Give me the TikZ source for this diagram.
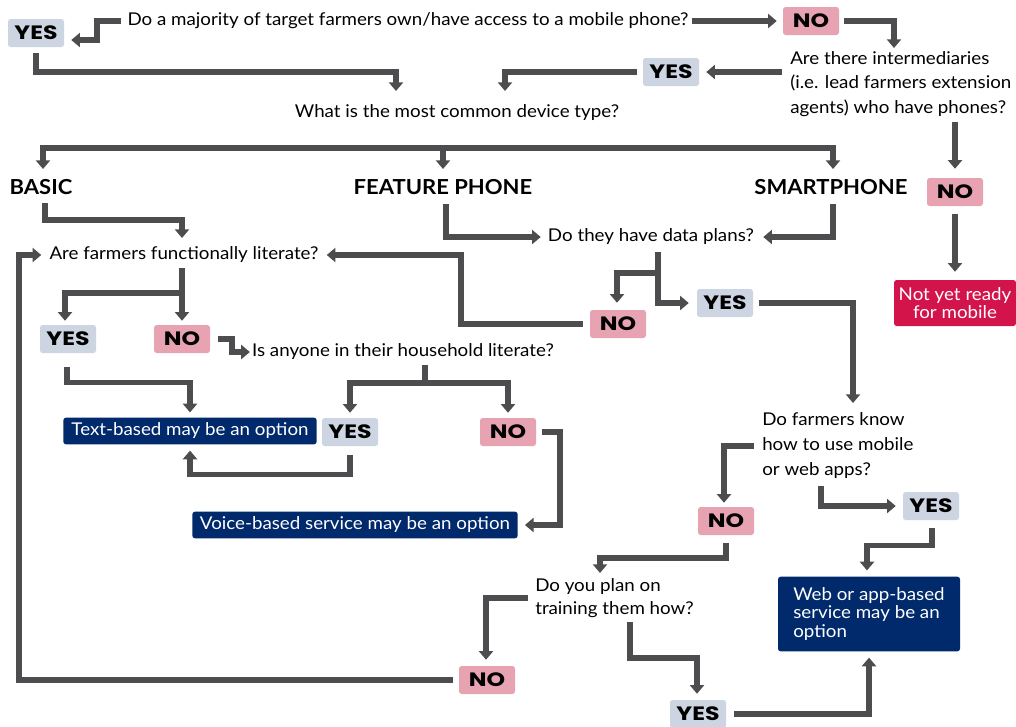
\documentclass[tikz,border=0pt]{standalone}
\usepackage{fontspec}
\setmainfont{Lato}[FakeStretch=1.065]
\newfontfamily\heavy{Poppins}[FakeStretch=1.22]
\usetikzlibrary{arrows.meta,calc}
\definecolor{lc}{HTML}{4D4D4F}
\definecolor{yescol}{HTML}{CDD5E2}
\definecolor{nocol}{HTML}{E7A3B1}
\definecolor{navy}{HTML}{002A6C}
\definecolor{crim}{HTML}{D2144A}
\begin{document}
\begin{tikzpicture}[x=0.75pt,y=-0.75pt,
  txt/.style={inner sep=0pt, font=\fontsize{13.2}{18.4}\selectfont},
  head/.style={inner sep=0pt, font=\fontsize{15.5}{18}\selectfont\bfseries},
  yesbox/.style={fill=yescol, rounded corners=2pt, minimum width=42pt, minimum height=21pt, inner sep=0pt, font=\heavy\bfseries\fontsize{14.5}{16}\selectfont},
  nobox/.style={yesbox, fill=nocol},
  navybox/.style={fill=navy, text=white, rounded corners=2pt, inner sep=0pt, font=\fontsize{13.2}{15}\selectfont},
  ln/.style={draw=lc, line width=4.3pt},
  arr/.style={ln, -{Triangle[width=10.5pt,length=6.5pt]}},
]
\fill[white] (0,0) rectangle (1016,726);
\useasboundingbox (0,0) rectangle (1016,726);

% nodes
\node[yesbox] (yes1) at (36,33) {YES};
\node[txt] (q1) at (408,21) {Do a majority of target farmers own/have access to a mobile phone?};
\node[nobox] (no1) at (811,21) {NO};
\node[txt, anchor=west, align=left] (q2) at (790,84) {Are there intermediaries\\(i.e. lead farmers extension\\agents) who have phones?};
\node[yesbox] (yes2) at (671,72) {YES};
\node[txt] (q3) at (457,113) {What is the most common device type?};
\node[head] (basic) at (41,187) {BASIC};
\node[head] (feat) at (443,187) {FEATURE PHONE};
\node[head] (smart) at (831,187) {SMARTPHONE};
\node[nobox] (no2) at (955,192) {NO};
\node[fill=crim, text=white, rounded corners=2pt, minimum width=91.5pt, minimum height=34.5pt, inner sep=0pt, align=center, font=\fontsize{13.2}{13.5}\selectfont] (nr) at (955,303) {Not yet ready\\for mobile};
\node[txt] (q4) at (184,255) {Are farmers functionally literate?};
\node[txt] (q5) at (651,237) {Do they have data plans?};
\node[yesbox] (yes3) at (68,339) {YES};
\node[nobox] (no3) at (182,339) {NO};
\node[txt] (q6) at (403,352) {Is anyone in their household literate?};
\node[nobox] (no4) at (618,324) {NO};
\node[yesbox] (yes4) at (725,303) {YES};
\node[navybox, minimum width=190pt, minimum height=20pt] (tb) at (190,431) {Text-based may be an option};
\node[yesbox] (yes5) at (350,432) {YES};
\node[nobox] (no5) at (508,432) {NO};
\node[navybox, minimum width=244pt, minimum height=20pt] (vb) at (355,525) {Voice-based service may be an option};
\node[txt, anchor=west, align=left, font=\fontsize{13.2}{18.75}\selectfont] (q7) at (762,446) {Do farmers know\\how to use mobile\\or web apps?};
\node[nobox] (no6) at (726,521) {NO};
\node[yesbox] (yes6) at (931,506) {YES};
\node[navybox, minimum width=136.5pt, minimum height=56pt, align=left, font=\fontsize{13.2}{13.9}\selectfont] (web) at (869,614) {Web or app-based\\service may be an\\option};
\node[txt, anchor=west, align=left, font=\fontsize{13.2}{17.25}\selectfont] (q8) at (535,598) {Do you plan on\\training them how?};
\node[nobox] (no7) at (487,680) {NO};
\node[yesbox] (yes7) at (698,714) {YES};

% connectors
\draw[arr] ($(q1.west)+(-6,0)$) -| ($(yes1.east)+(33,7)$) -- ($(yes1.east)+(7,7)$);
\draw[arr] ($(yes1.south)+(0,6)$) |- ($(q3.center)+(-61,-41)$) -- ($(q3.center)+(-61,-22)$);
\draw[arr] ($(q1.east)+(3,0)$) -- ($(no1.west)+(-6,0)$);
\draw[arr] ($(no1.east)+(5,0)$) -| ($(q2.west)+(104,-36)$);
\draw[arr] ($(q2.west)+(-8,-12)$) -- ($(yes2.east)+(7,0)$);
\draw[arr] ($(yes2.west)+(-6,0)$) -| ($(q3.center)+(48,-22)$);
\draw[arr] ($(q2.west)+(165,38)$) -- ($(no2.north)+(0,-9)$);
\draw[arr] ($(no2.south)+(0,8)$) -- ($(nr.north)+(0,-8)$);

\coordinate (split) at (443,148);
\draw[arr] (split) -| ($(basic.center)+(2,-18)$);
\draw[arr] (split) -- ($(feat.center)+(0,-18)$);
\draw[arr] (split) -| ($(smart.center)+(2,-18)$);

\draw[arr] ($(basic.center)+(4,16)$) |- ($(q4.center)+(-2,-35)$) -- ($(q4.center)+(-2,-17)$);
\draw[arr] ($(feat.center)+(3,17)$) |- ($(q5.west)+(-7,0)$);
\draw[arr] ($(smart.center)+(2,17)$) |- ($(q5.east)+(9,0)$);

\draw[arr] ($(q4.center)+(-2,13)$) -- ($(no3.north)+(0,-4)$);
\draw[arr] ($(q4.center)+(-2,38)$) -| ($(yes3.north)+(-3,-4)$);

\draw[arr] ($(q5.center)+(7,15)$) |- ($(yes4.west)+(-8,0)$);
\draw[arr] ($(q5.center)+(7,36)$) -| ($(no4.north)+(-1,-7)$);

\draw[arr] ($(no4.west)+(-7,0)$) -| ($(q4.east)+(142,0)$) -- ($(q4.east)+(8,0)$);
\draw[arr] ($(yes4.east)+(6,0)$) -| ($(q7.west)+(91,-43)$);
\draw[arr] ($(no7.west)+(-6,0)$) -| ($(q4.west)+(-30,0)$) -- ($(q4.west)+(-8,0)$);

\draw[arr] ($(no3.east)+(8,0)$) -- ++(14,0) |- ($(q6.west)+(-2,0)$);
\draw[arr] ($(yes3.south)+(-1,14)$) |- ($(tb.north)+(0,-35)$) -- ($(tb.north)+(0,-5)$);

\draw[ln] ($(q6.center)+(22,13)$) -- ($(q6.center)+(22,31)$);
\draw[arr] ($(q6.center)+(22,31)$) -| ($(yes5.north)+(0,-5)$);
\draw[arr] ($(q6.center)+(22,31)$) -| ($(no5.north)+(0,-5)$);

\draw[arr] ($(yes5.south)+(0,9)$) |- ($(tb.south)+(0,30)$) -- ($(tb.south)+(0,6)$);
\draw[arr] ($(no5.east)+(6,0)$) -| ($(vb.east)+(42,0)$) -- ($(vb.east)+(7,0)$);

\draw[arr] ($(q7.west)+(-8,0)$) -| ($(no6.north)+(-2,-4)$);
\draw[arr] ($(q7.west)+(59,40)$) |- ($(yes6.west)+(-7,0)$);
\draw[arr] ($(yes6.south)+(1,8)$) |- ($(web.north)+(-2,-31)$) -- ($(web.north)+(-2,-6)$);
\draw[arr] ($(no6.south)+(0,8)$) |- ($(q8.west)+(65,-40)$) -- ($(q8.west)+(65,-25)$);
\draw[arr] ($(q8.west)+(-7,0)$) -| ($(no7.north)+(-1,-6)$);
\draw[arr] ($(q8.west)+(95,24)$) |- ($(yes7.north)+(-1,-42)$) -- ($(yes7.north)+(-1,-6)$);
\draw[arr] ($(yes7.east)+(8,0)$) -| ($(web.south)+(0,6)$);
\end{tikzpicture}
\end{document}
